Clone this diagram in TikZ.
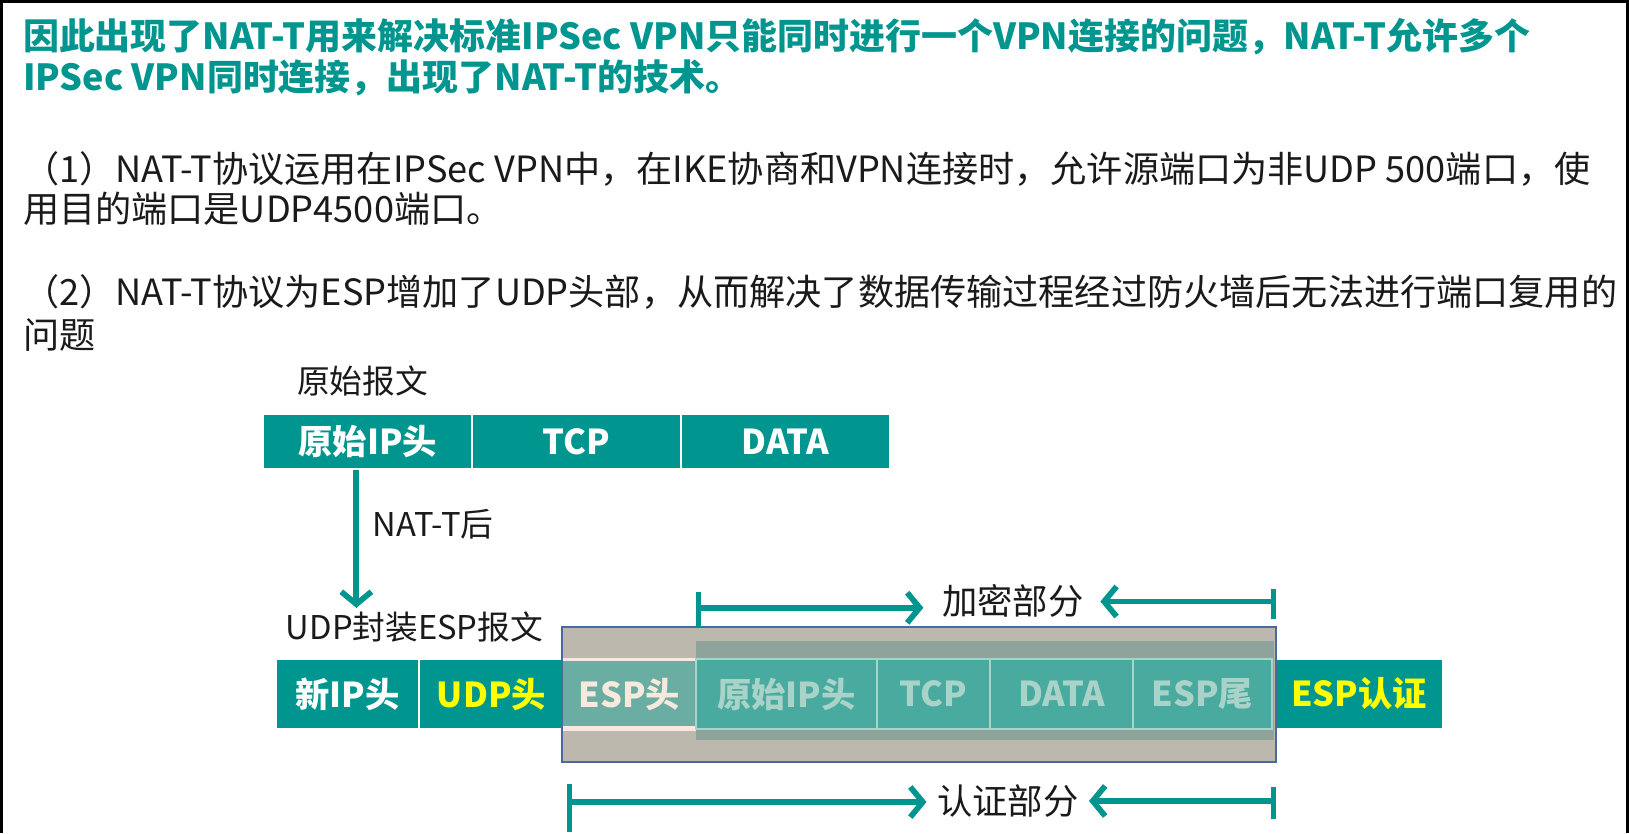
\documentclass[tikz,border=0pt]{standalone}
\usepackage{fontspec}
\setmainfont{Noto Sans CJK SC}
\usetikzlibrary{arrows.meta}
\definecolor{tealc}{RGB}{0,150,143}
\definecolor{grayfill}{RGB}{188,184,174}
\definecolor{grayedge}{RGB}{74,106,155}
\definecolor{encfill}{RGB}{141,163,156}
\definecolor{esphfill}{RGB}{106,174,163}
\definecolor{innerfill}{RGB}{73,170,160}
\definecolor{innerline}{RGB}{169,212,203}
\definecolor{innertext}{RGB}{169,211,201}
\definecolor{creamc}{RGB}{247,233,220}
\definecolor{yel}{RGB}{255,255,0}
\definecolor{txt}{RGB}{26,26,26}
\begin{document}
\begin{tikzpicture}[x=1pt,y=-1pt,
  title/.style={anchor=west,inner sep=0pt,text=tealc,font=\fontsize{34.6}{40}\selectfont\bfseries},
  para/.style={anchor=west,inner sep=0pt,text=txt,font=\fontsize{34.8}{40}\selectfont},
  lbl/.style={inner sep=0pt,text=txt,font=\fontsize{31.5}{38}\selectfont},
  toplbl/.style={inner sep=0pt,text=txt,font=\fontsize{34}{38}\selectfont},
  cell/.style={fill=tealc,draw=white,line width=2pt,inner sep=0pt,text=white,font=\fontsize{33}{38}\selectfont\bfseries},
  innercell/.style={fill=innerfill,draw=innerline,line width=2pt,inner sep=0pt,text=innertext,font=\fontsize{33}{38}\selectfont\bfseries},
  tarrow/.style={draw=tealc,line width=5.5pt,-{Straight Barb[length=12pt,width=29pt]}},
  tick/.style={draw=tealc,line width=5pt}
]
\useasboundingbox (0,0) rectangle (1568,802);
\fill[white] (0,0) rectangle (1568,802);
% frame
\draw[black,line width=3pt] (1.5,802) -- (1.5,1.5) -- (1566.5,1.5) -- (1566.5,802);

% texts
\node[title] (t1) at (22,35) {因此出现了NAT-T用来解决标准IPSec VPN只能同时进行一个VPN连接的问题，NAT-T允许多个};
\node[title] (t2) at (22,75) {IPSec VPN同时连接，出现了NAT-T的技术。};
\node[para] (p1a) at (22,163) {（1）NAT-T协议运用在IPSec VPN中，在IKE协商和VPN连接时，允许源端口为非UDP 500端口，使};
\node[para] (p1b) at (22,201) {用目的端口是UDP4500端口。};
\node[para] (p2a) at (22,281) {（2）NAT-T协议为ESP增加了UDP头部，从而解决了数据传输过程经过防火墙后无法进行端口复用的};
\node[para] (p2b) at (22,322) {问题};

% original packet
\node[lbl] (orig) at (349,367) {原始报文};
\node[cell,minimum width=201pt,minimum height=53pt] (oip) at (354,425) {原始IP头};
\node[cell,minimum width=201pt,minimum height=53pt] (otcp) at (555,425) {TCP};
\node[cell,minimum width=201pt,minimum height=53pt] (odata) at (756,425) {DATA};

\node[lbl] (natt) at (417,505) {NAT-T后};
\node[lbl] (udplbl) at (399,604) {UDP封装ESP报文};
\draw[tarrow] ([xshift=-11pt]oip.south) -- ([xshift=-11pt,yshift=4pt]oip.south |- udplbl.north);

% new packet
\node[cell,minimum width=137pt,minimum height=67pt] (nip) at (334.5,668) {新IP头};
\node[cell,draw=none,minimum width=138pt,minimum height=65pt,text=yel] (udp) at (473,668) {UDP头};
\node[fill=grayfill,inner sep=0pt,minimum width=687pt,minimum height=129pt] (espbox) at (884.5,668.5) {};
\fill[encfill] (670,617) rectangle (1226,712);
\node[fill=esphfill,inner sep=0pt,minimum width=128pt,minimum height=66pt,text=creamc,font=\fontsize{33}{38}\selectfont\bfseries] (esph) at (606,668) {ESP头};
\draw[creamc,line width=3pt] (esph.north west) -- (esph.north east);
\draw[creamc,line width=4pt] (esph.south west) -- (esph.south east);
\node[innercell,minimum width=174pt,minimum height=67pt] (eip) at (757,668) {原始IP头};
\node[innercell,minimum width=109pt,minimum height=67pt] (etcp) at (898.5,668) {TCP};
\node[innercell,minimum width=138pt,minimum height=67pt] (edata) at (1022,668) {DATA};
\node[innercell,minimum width=133pt,minimum height=67pt] (etail) at (1157.5,668) {ESP尾};
\node[cell,draw=none,minimum width=160pt,minimum height=66pt,text=yel] (auth) at (1308,668) {ESP认证};
\draw[grayedge,line width=2pt] (espbox.north west) rectangle (espbox.south east);

% encrypted part
\node[toplbl] (enc) at (975,578) {加密部分};
\coordinate (encL) at (672,585);
\coordinate (encR) at (1226,579);
\draw[tick] (672,570) -- (672,604);
\draw[tarrow] (encL) -- ([xshift=-18pt]enc.west |- encL);
\draw[tick] (1226,567) -- (1226,596);
\draw[tarrow] (encR) -- ([xshift=16pt]enc.east |- encR);

% auth part
\node[toplbl] (authl) at (970,771) {认证部分};
\coordinate (auL) at (548,772);
\coordinate (auR) at (1226,771);
\draw[tick] (548,755) -- (548,801);
\draw[tarrow] (auL) -- ([xshift=-10pt]authl.west |- auL);
\draw[tick] (1226,758) -- (1226,788);
\draw[tarrow] (auR) -- ([xshift=10pt]authl.east |- auR);
\end{tikzpicture}
\end{document}
